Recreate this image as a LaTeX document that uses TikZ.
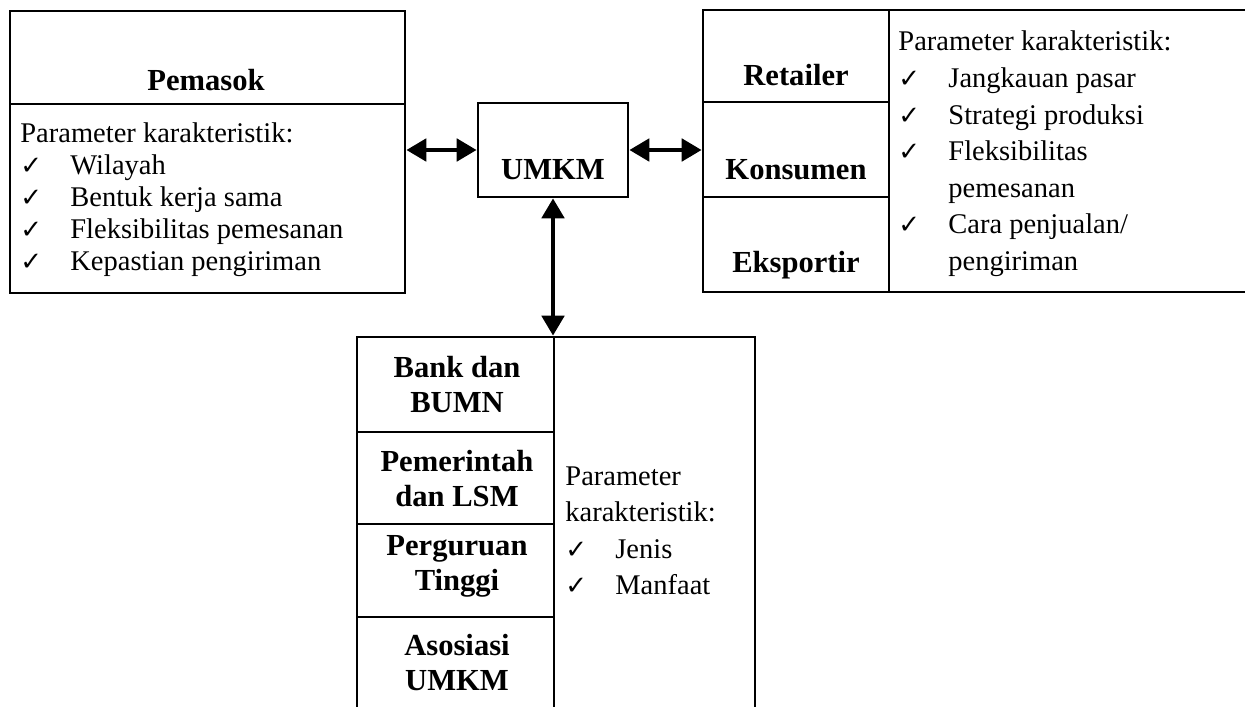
\documentclass[tikz,border=0pt]{standalone}
\usepackage{fontspec}
\setmainfont{Liberation Serif}
\newfontfamily\ckfont{DejaVu Sans}
\usetikzlibrary{arrows.meta,fit}
\newcommand{\ckm}{\makebox[25pt][l]{\ckfont\fontsize{13}{13}\selectfont ✓}}
\tikzset{
  boxframe/.style={draw, line width=1.3pt, inner sep=0pt, fit={#1}},
  divline/.style={line width=1.3pt},
  conn/.style={line width=2.4pt, {Triangle[length=10pt,width=11pt]}-{Triangle[length=10pt,width=11pt]}},
  lbl/.style={font=\bfseries\fontsize{15.3}{17.5}\selectfont, align=center, inner sep=0pt},
  plist/.style={font=\fontsize{14.25}{#1}\selectfont, anchor=base west, inner sep=0pt},
}
\begin{document}
\begin{tikzpicture}[x=0.5pt,y=-0.5pt]
\useasboundingbox (0,0) rectangle (1245,706);
% Pemasok
\node[boxframe={(10,11) (405,293)}] (pem) {};
\draw[divline] (10,104) -- (405,104);
\node[lbl] (pemT) at (206,80) {Pemasok};
\node[plist=16pt] (pemL) at (20,142) {\begin{tabular}[t]{@{}l@{}}
Parameter karakteristik:\\
\ckm Wilayah\\
\ckm Bentuk kerja sama\\
\ckm Fleksibilitas pemesanan\\
\ckm Kepastian pengiriman
\end{tabular}};
% UMKM
\node[boxframe={(478,103) (628,197)}] (umkm) {};
\node[lbl] (umkmT) at (553,170) {UMKM};
% Right box
\node[boxframe={(703,10) (1252,292)}] (cust) {};
\draw[divline] (889,10) -- (889,292);
\draw[divline] (703,102) -- (889,102);
\draw[divline] (703,197) -- (889,197);
\node[lbl] (retT) at (796,75) {Retailer};
\node[lbl] (konT) at (796,170) {Konsumen};
\node[lbl] (eksT) at (796,265) {Eksportir};
\node[plist=18.3pt] (custL) at (898,51) {\begin{tabular}[t]{@{}l@{}}
Parameter karakteristik:\\
\ckm Jangkauan pasar\\
\ckm Strategi produksi\\
\ckm Fleksibilitas\\
\hspace{25pt}pemesanan\\
\ckm Cara penjualan/\\
\hspace{25pt}pengiriman
\end{tabular}};
% Bottom box
\node[boxframe={(357,337) (755,714)}] (inst) {};
\draw[divline] (554,337) -- (554,714);
\draw[divline] (357,432) -- (554,432);
\draw[divline] (357,524) -- (554,524);
\draw[divline] (357,617) -- (554,617);
\node[lbl] (bankT) at (457,385) {Bank dan\\BUMN};
\node[lbl] (pemerT) at (457,479) {Pemerintah\\dan LSM};
\node[lbl] (ptT) at (457,566) {Perguruan\\Tinggi};
\node[lbl] (asoT) at (457,663) {Asosiasi\\UMKM};
\node[plist=18.3pt] (instL) at (565,485) {\begin{tabular}[t]{@{}l@{}}
Parameter\\
karakteristik:\\
\ckm Jenis\\
\ckm Manfaat
\end{tabular}};
% connectors
\draw[conn] (pem.east |- umkm.west) -- (umkm.west);
\draw[conn] (umkm.east) -- (umkm.east -| cust.west);
\draw[conn] (umkm.south) -- (umkm.south |- inst.north);
\end{tikzpicture}
\end{document}
